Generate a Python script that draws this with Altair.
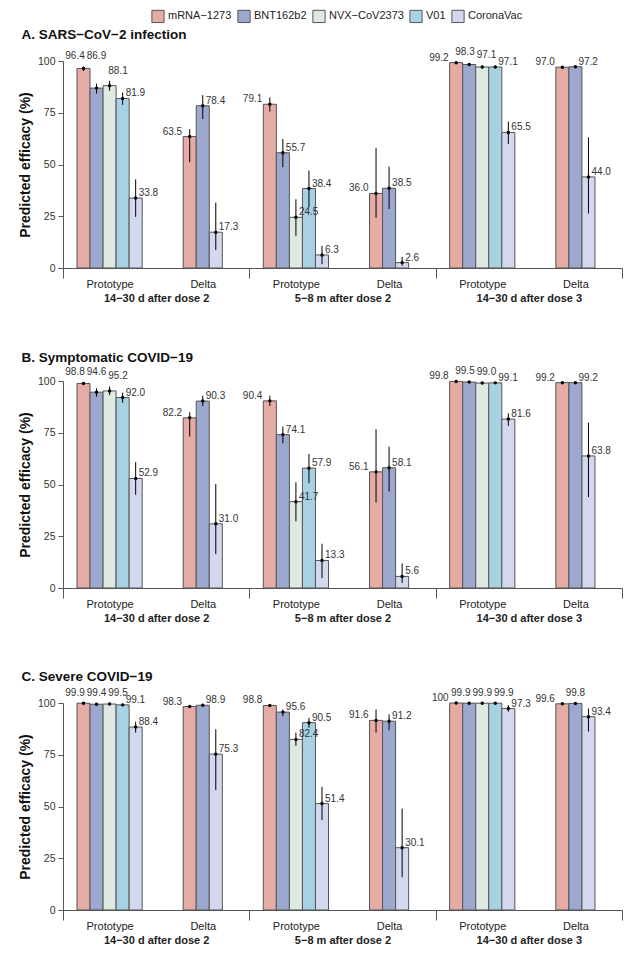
import json
import altair as alt
import pandas as pd

FONT = "Liberation Sans"

# ---------------- data ----------------
vaccines = ["mRNA\u22121273", "BNT162b2", "NVX\u2212CoV2373", "V01", "CoronaVac"]
delta_vaccines = ["mRNA\u22121273", "BNT162b2", "CoronaVac"]
colors = ["#E5ABA5", "#9DA8CE", "#DDE9E1", "#A8D2E3", "#D4D8EE"]
periods = ["14\u221230 d after dose 2", "5\u22128 m after dose 2", "14\u221230 d after dose 3"]
variants = ["Prototype", "Delta"]
outcomes = ["A. SARS\u2212CoV\u22122 infection", "B. Symptomatic COVID\u221219", "C. Severe COVID\u221219"]

# groups: dose2 Prototype, dose2 Delta, 5-8m Prototype, 5-8m Delta, dose3 Prototype, dose3 Delta
inf_est = [[96.4, 86.9, 88.1, 81.9, 33.8], [63.5, 78.4, 17.3], [79.1, 55.7, 24.5, 38.4, 6.3],
           [36.0, 38.5, 2.6], [99.2, 98.3, 97.1, 97.1, 65.5], [97.0, 97.2, 44.0]]
inf_lo = [[95.2, 84.3, 85.6, 78.8, 24.7], [51.1, 72.0, 8.7], [75.6, 48.7, 15.5, 29.5, 1.8],
          [24.2, 28.5, 1.1], [98.8, 97.6, 96.4, 96.4, 59.9], [96.3, 96.5, 26.3]]
inf_hi = [[97.4, 89.1, 90.4, 84.8, 42.8], [67.1, 83.5, 31.6], [82.4, 62.3, 33.2, 47.1, 10.7],
          [58.0, 49.0, 5.4], [99.5, 98.9, 97.8, 97.8, 70.7], [97.6, 97.8, 63.1]]

sym_est = [[98.8, 94.6, 95.2, 92.0, 52.9], [82.2, 90.3, 31.0], [90.4, 74.1, 41.7, 57.9, 13.3],
           [56.1, 58.1, 5.6], [99.8, 99.5, 99.0, 99.1, 81.6], [99.2, 99.2, 63.8]]
sym_lo = [[98.3, 92.4, 93.2, 89.5, 45.0], [73.2, 87.9, 16.4], [87.9, 69.9, 32.2, 50.6, 4.8],
          [41.3, 46.6, 2.4], [99.6, 99.2, 98.7, 98.8, 78.3], [98.9, 98.9, 43.9]]
sym_hi = [[99.2, 96.5, 97.3, 94.4, 60.8], [84.9, 92.9, 50.3], [92.9, 78.0, 51.1, 64.8, 21.4],
          [76.7, 68.3, 11.9], [99.9, 99.7, 99.3, 99.3, 84.4], [99.4, 99.4, 79.9]]

sev_est = [[99.9, 99.4, 99.5, 99.1, 88.4], [98.3, 98.9, 75.3], [98.8, 95.6, 82.4, 90.5, 51.4],
           [91.6, 91.2, 30.1], [100.0, 99.9, 99.9, 99.9, 97.3], [99.6, 99.8, 93.4]]
sev_lo = [[99.7, 99.0, 99.2, 98.7, 85.7], [97.8, 98.6, 57.9], [98.3, 93.7, 79.3, 88.1, 43.4],
          [85.7, 86.8, 15.8], [99.9, 99.8, 99.8, 99.8, 95.8], [99.3, 99.6, 86.2]]
sev_hi = [[100.0, 99.7, 99.8, 99.4, 91.0], [98.7, 99.2, 87.3], [99.2, 96.9, 85.7, 92.9, 59.5],
          [96.9, 94.5, 49.0], [100.0, 100.0, 100.0, 100.0, 99.0], [99.8, 99.9, 97.3]]

all_sets = [(inf_est, inf_lo, inf_hi), (sym_est, sym_lo, sym_hi), (sev_est, sev_lo, sev_hi)]

# ---------------- layout helpers (derived, not data) ----------------
W, H = 559, 207
BW = 0.14                     # bar width in group units
PXX = W / 6.0                 # pixels per x unit
VFS = 10                      # value label font size
LABEL_W = 19.5                # approx width of a "99.9" label in px
TOL = 1.0 / PXX               # ignore overlaps with neighbour columns narrower than this


def label_layout(g, est, hi, centers):
    """Simple repel-like placement of value labels inside one group."""
    n = len(est)
    out = [None] * n
    modes = []
    for k in range(n):
        if k == 0:
            modes.append("A" if g == 0 else "L")
        elif k == n - 1:
            modes.append("R")
        elif hi[k + 1] >= est[k] - 5 and est[k + 1] <= est[k] + 3:
            modes.append("A")
        else:
            modes.append("R")
    half = LABEL_W / 2 / PXX
    k = 0
    while k < n:
        m = modes[k]
        if m == "L":
            out[k] = ("right", centers[k] - (BW / 2) - 1.0 / PXX, est[k])
            k += 1
        elif m == "R":
            out[k] = ("left", centers[k] + 3.0 / PXX, est[k])
            k += 1
        else:
            j = k
            while j < n and modes[j] == "A":
                j += 1
            run = list(range(k, j))
            mid = (centers[run[0]] + centers[run[-1]]) / 2
            step = (LABEL_W + 2.0) / PXX
            for i, r in enumerate(run):
                cx = mid + (i - (len(run) - 1) / 2) * step
                under = []
                for q in range(n):
                    ov = min(centers[q] + BW / 2, cx + half) - max(centers[q] - BW / 2, cx - half)
                    if ov > TOL:
                        under.append(hi[q])
                out[r] = ("center", cx, max(under + [hi[r]]) + 2.5)
            k = j
    return out


rows = []
for oi, (est, lo, hi) in enumerate(all_sets):
    for g in range(6):
        vlist = vaccines if g % 2 == 0 else delta_vaccines
        n = len(vlist)
        centers = [g + 0.5 + (k - (n - 1) / 2) * BW for k in range(n)]
        labs = label_layout(g, est[g], hi[g], centers)
        for k, v in enumerate(vlist):
            xc = centers[k]
            e = est[g][k]
            rows.append(dict(outcome=outcomes[oi], vaccine=v, est=e, lo=lo[g][k], hi=hi[g][k],
                             xc=xc, x0=xc - BW / 2, x1=xc + BW / 2,
                             label=("100" if e >= 100 else f"{e:.1f}"),
                             lalign=labs[k][0], lx=labs[k][1], ly=labs[k][2]))
df = pd.DataFrame(rows)

# axis label table: index = round(value*2)
lab_arr = []
for p in range(3):
    lab_arr += ["", variants[0], periods[p], variants[1]]
lab_arr.append("")
label_expr = json.dumps(lab_arr, ensure_ascii=False) + "[round(datum.value*2)]"
tick_vals = [i / 2 for i in range(13)]

AX = "#555555"

x_axis = alt.Axis(values=tick_vals, labelExpr=label_expr, title=None, grid=False,
                  tickSize=10, tickColor=AX, domainColor=AX,
                  tickOpacity={"condition": {"test": "datum.value % 2 == 0", "value": 1}, "value": 0},
                  labelFontWeight={"condition": {"test": "datum.value % 2 == 1", "value": "bold"}, "value": "normal"},
                  labelPadding={"condition": {"test": "datum.value % 2 == 1", "value": 14}, "value": 0},
                  labelFontSize=11, labelColor="#222", labelOverlap=False, labelFlush=False,
                  labelFont=FONT)
y_axis = alt.Axis(values=[0, 25, 50, 75, 100], title="Predicted efficacy (%)", grid=False,
                  tickSize=5, tickColor=AX, domainColor=AX, labelPadding=3, labelFontSize=10.5,
                  labelColor="#333", labelFont=FONT, titleFont=FONT, titleFontSize=14,
                  titleFontWeight="bold", titleColor="#111", titlePadding=5)
xs = alt.Scale(domain=[0, 6], nice=False, zero=False)
ys = alt.Scale(domain=[0, 100], nice=False)

legend = alt.Legend(orient="none", legendX=88, legendY=-52, direction="horizontal", title=None,
                    symbolType="square", symbolSize=150, symbolStrokeColor=AX, symbolStrokeWidth=1,
                    symbolOpacity=1, labelFontSize=11, labelFont=FONT, labelColor="#222",
                    columnPadding=3, labelOffset=3)

TITLE_OFFSETS = [5, 2, 4]


def X(f):
    return alt.X(f, scale=xs, axis=x_axis)


def Y(f):
    return alt.Y(f, scale=ys, axis=y_axis)


def panel(idx, title):
    base = alt.Chart(df).transform_filter(alt.datum.outcome == title)
    bars = base.mark_bar(stroke=AX, strokeWidth=1, opacity=1).encode(
        x=X("x0:Q"), x2="x1:Q", y=Y("est:Q"), y2=alt.datum(0),
        color=alt.Color("vaccine:N", scale=alt.Scale(domain=vaccines, range=colors), legend=legend),
    )
    rules = base.mark_rule(color="black", strokeWidth=1).encode(
        x=X("xc:Q"), y=Y("lo:Q"), y2="hi:Q",
    )
    pts = base.mark_circle(color="black", size=12, opacity=1).encode(
        x=X("xc:Q"), y=Y("est:Q"),
    )
    texts = []
    for al in ["left", "right", "center"]:
        texts.append(
            base.transform_filter(alt.datum.lalign == al).mark_text(
                align=al, baseline="bottom", fontSize=VFS, font=FONT, color="#333"
            ).encode(x=X("lx:Q"), y=Y("ly:Q"), text="label:N")
        )
    return alt.layer(bars, rules, pts, *texts).properties(
        width=W, height=H,
        title=alt.TitleParams(title, anchor="start", fontSize=13.5, fontWeight="bold", font=FONT,
                              color="#111", offset=TITLE_OFFSETS[idx], dx=3),
    )


chart = alt.vconcat(*[panel(i, o) for i, o in enumerate(outcomes)], spacing=47).properties(
    padding={"left": 10, "top": 1, "right": 5, "bottom": 5}
).configure_view(stroke=None).configure_text(font=FONT)

chart.save("out.html", embed_options={"renderer": "svg", "actions": False})
